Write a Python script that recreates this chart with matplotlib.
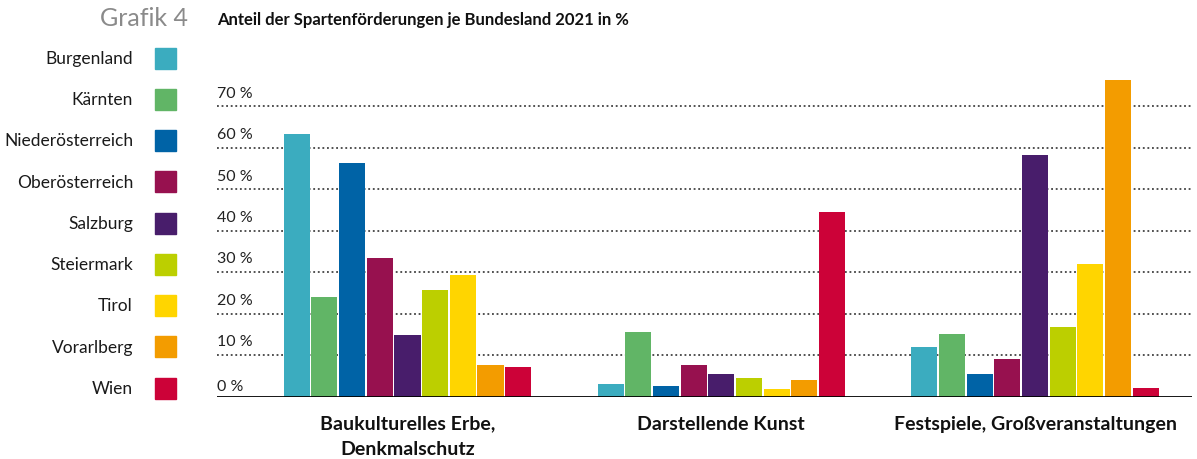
import numpy as np
import matplotlib
matplotlib.use("Agg")
import matplotlib.pyplot as plt
from matplotlib.patches import Rectangle

plt.rcParams['font.family'] = ['Lato', 'DejaVu Sans']

categories = ['Baukulturelles Erbe,\nDenkmalschutz', 'Darstellende Kunst',
              'Festspiele, Großveranstaltungen']
laender = ['Burgenland', 'Kärnten', 'Niederösterreich', 'Oberösterreich',
           'Salzburg', 'Steiermark', 'Tirol', 'Vorarlberg', 'Wien']
farben = ['#3BACBF', '#61B566', '#0063A6', '#97114F', '#481D6B',
          '#BCCF00', '#FFD500', '#F39C00', '#CC0238']

# Anteile in % je Sparte (Reihenfolge wie categories)
burgenland = [63.3, 3.0, 11.9]
kaernten = [24.0, 15.6, 15.1]
noe = [56.3, 2.5, 5.4]
ooe = [33.4, 7.6, 9.0]
salzburg = [14.8, 5.4, 58.2]
steiermark = [25.7, 4.5, 16.8]
tirol = [29.3, 1.8, 32.0]
vorarlberg = [7.6, 4.0, 76.3]
wien = [7.1, 44.5, 2.0]
werte = [burgenland, kaernten, noe, ooe, salzburg, steiermark, tirol, vorarlberg, wien]

yticks = [0, 10, 20, 30, 40, 50, 60, 70]

fig = plt.figure(figsize=(11.97, 4.6), dpi=100)
W, H = 1197, 460
ax = fig.add_axes([217 / W, (460 - 397.5) / H, (1192 - 217) / W, 80 * 4.146 / H])

step = 0.0882
width = 0.083
x = np.arange(len(categories))
for i, (land, vals) in enumerate(zip(laender, werte)):
    ax.bar(x + (i - 4) * step, vals, width=width, color=farben[i], zorder=3)

ax.set_xlim(-0.607, 2.5)
ax.set_ylim(0, 80)
for t in yticks[1:]:
    ax.axhline(t, color='#222222', lw=1.1, ls=(0, (1.2, 1.8)), zorder=1)
    ax.text(-0.607, t + 1.6, f'{t} %', fontsize=11.5, color='#222222',
            ha='left', va='bottom')
ax.text(-0.607, 0.9, '0 %', fontsize=11.5, color='#222222', ha='left', va='bottom')
ax.axhline(-0.35, color='#b0b0b0', lw=1.2, zorder=3)
ax.axhline(0, color='black', lw=2, zorder=4)

for s in ax.spines.values():
    s.set_visible(False)
ax.set_yticks([])
ax.set_xticks(x)
ax.set_xticklabels(categories, fontsize=14, fontweight='bold', color='#111111',
                   linespacing=1.6, va='top')
ax.tick_params(axis='x', length=0, pad=13)

fig.text(188 / W, 1 - 19 / H, 'Grafik 4', fontsize=18, color='#8a8a8a',
         ha='right', va='center')
fig.text(217 / W, 1 - 20 / H, 'Anteil der Spartenförderungen je Bundesland 2021 in %',
         fontsize=12, fontweight='bold', color='#111111', ha='left', va='center')

for i, land in enumerate(laender):
    yc = 59 + i * 41.25
    fig.text(133 / W, 1 - yc / H, land, fontsize=12.5, color='#1a1a1a',
             ha='right', va='center')
    fig.patches.append(Rectangle((155 / W, 1 - (yc + 10.5) / H), 21 / W, 21 / H,
                                 transform=fig.transFigure, color=farben[i]))

fig.savefig('out.png', dpi=100)
